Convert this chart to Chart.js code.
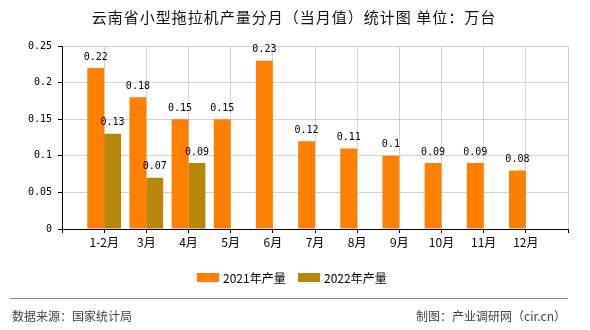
<!DOCTYPE html>
<html>
<head>
<meta charset="utf-8">
<script src="https://cdn.jsdelivr.net/npm/chart.js@4"></script>
<style>
  html, body { margin: 0; padding: 0; background: #fff; }
  #wrap { width: 590px; height: 330px; position: relative; }
</style>
</head>
<body>
<div id="wrap"><canvas id="bar"></canvas></div>
<script>
// months (empty slots at both ends give the half-step margins)
const months = ['', '1-2月', '3月', '4月', '5月', '6月', '7月', '8月', '9月', '10月', '11月', '12月', ''];
const output2021 = [null, 0.22, 0.18, 0.15, 0.15, 0.23, 0.12, 0.11, 0.1, 0.09, 0.09, 0.08, null];
const output2022 = [null, 0.13, 0.07, 0.09, null, null, null, null, null, null, null, null, null];
const seriesNames = ['2021年产量', '2022年产量'];
const yTicks = [0, 0.05, 0.1, 0.15, 0.2, 0.25];

const titleText = '云南省小型拖拉机产量分月（当月值）统计图 单位：万台';
const sourceText = '数据来源：国家统计局';
const makerText = '制图：产业调研网（cir.cn）';

const monoFont = '"DejaVu Sans Mono", monospace';
const cjkFont = '"Noto Sans CJK SC", sans-serif';

// value labels, title, legend and footer
const extras = {
    id: 'extras',
    afterDatasetsDraw(chart) {
        const ctx = chart.ctx;
        ctx.save();
        ctx.font = '10px ' + monoFont;
        ctx.fillStyle = '#000';
        ctx.textAlign = 'center';
        ctx.textBaseline = 'bottom';
        chart.data.datasets.forEach((ds, i) => {
            const meta = chart.getDatasetMeta(i);
            meta.data.forEach((bar, j) => {
                const v = ds.data[j];
                if (v === null || v === undefined) return;
                ctx.fillText(String(v), bar.x, bar.y - 6);
            });
        });
        ctx.restore();
    },
    afterDraw(chart) {
        const ctx = chart.ctx;
        ctx.save();
        // title
        ctx.fillStyle = '#111';
        ctx.font = '15px ' + cjkFont;
        ctx.letterSpacing = '1px';
        ctx.textAlign = 'center';
        ctx.textBaseline = 'middle';
        ctx.fillText(titleText, 294, 17);
        ctx.letterSpacing = '0px';

        // legend
        ctx.font = '12px ' + cjkFont;
        ctx.textAlign = 'left';
        let x = 197;
        chart.data.datasets.forEach((ds) => {
            ctx.fillStyle = ds.backgroundColor;
            ctx.fillRect(x, 273, 22, 9);
            ctx.fillStyle = '#000';
            ctx.fillText(ds.label, x + 26, 278);
            x += 101;
        });

        // footer
        ctx.strokeStyle = '#888';
        ctx.lineWidth = 1;
        ctx.beginPath();
        ctx.moveTo(10, 298.5);
        ctx.lineTo(568, 298.5);
        ctx.stroke();
        ctx.fillStyle = '#444';
        ctx.font = '12px ' + cjkFont;
        ctx.textAlign = 'left';
        ctx.fillText(sourceText, 12, 316);
        ctx.textAlign = 'right';
        ctx.fillText(makerText, 566, 316);
        ctx.restore();
    }
};

const ctxBar = document.getElementById('bar').getContext('2d');
const barChart = new Chart(ctxBar, {
    type: 'bar',
    data: {
        labels: months,
        datasets: [{
            label: seriesNames[0],
            data: output2021,
            backgroundColor: '#FF8000' // orange
        }, {
            label: seriesNames[1],
            data: output2022,
            backgroundColor: '#B8860B' // dark goldenrod
        }]
    },
    options: {
        responsive: true,
        maintainAspectRatio: false,
        animation: false,
        layout: {
            padding: { left: 0, top: 46, right: 22, bottom: 71 }
        },
        datasets: {
            bar: {
                categoryPercentage: 0.8,
                barPercentage: 1.0
            }
        },
        scales: {
            x: {
                offset: false,
                grid: {
                    offset: false,
                    color: '#d3d3d3',
                    tickColor: '#000',
                    tickLength: 4
                },
                border: { color: '#000' },
                ticks: {
                    autoSkip: false,
                    maxRotation: 0,
                    padding: 2,
                    color: '#000',
                    font: { family: cjkFont, size: 12 }
                },
                afterFit(scale) { scale.height = 30; }
            },
            y: {
                min: 0,
                max: 0.25,
                afterBuildTicks(scale) {
                    scale.ticks = yTicks.map(v => ({ value: v }));
                },
                grid: {
                    color: '#d3d3d3',
                    tickColor: '#000',
                    tickLength: 4
                },
                border: { color: '#000' },
                ticks: {
                    padding: 6,
                    color: '#000',
                    font: { family: monoFont, size: 10 },
                    callback: (v) => String(Math.round(v * 100) / 100)
                },
                afterFit(scale) { scale.width = 62; }
            }
        },
        plugins: {
            legend: { display: false },
            title: { display: false },
            tooltip: { enabled: false }
        }
    },
    plugins: [extras]
});
</script>
</body>
</html>
